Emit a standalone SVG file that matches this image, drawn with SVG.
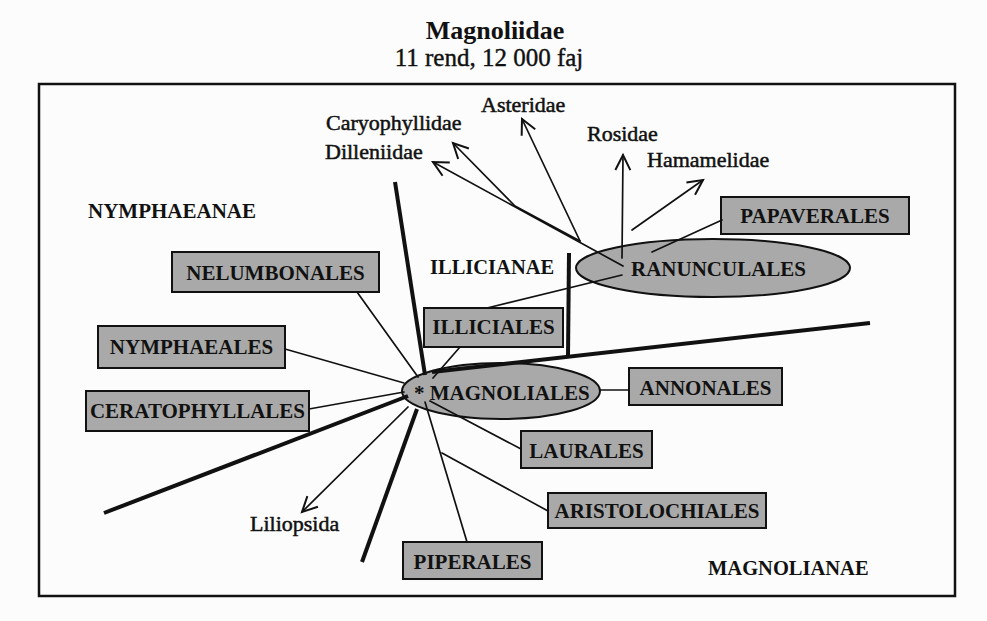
<svg xmlns="http://www.w3.org/2000/svg" width="987" height="621" viewBox="0 0 987 621">
<defs>
<style>
.bg{fill:#fcfcfc}
.frame{fill:none;stroke:#111;stroke-width:2.5}
.box{fill:#a9a9a9;stroke:#111;stroke-width:2}
.ell{fill:#a9a9a9;stroke:#111;stroke-width:2}
.lbl{font-family:"Liberation Serif","Times New Roman",serif;font-weight:bold;font-size:21px;fill:#111}
.cap{font-family:"Liberation Serif","Times New Roman",serif;font-weight:bold;font-size:20.5px;fill:#111}
.sm{font-family:"Liberation Serif","Times New Roman",serif;font-size:22px;fill:#111;stroke:#111;stroke-width:0.5}
.t1{font-family:"Liberation Serif","Times New Roman",serif;font-weight:bold;font-size:26px;fill:#111}
.t2{font-family:"Liberation Serif","Times New Roman",serif;font-size:25px;fill:#111;stroke:#111;stroke-width:0.4}
.c{text-anchor:middle}
.thin{fill:none;stroke:#111;stroke-width:1.7;stroke-linecap:round}
.thick{fill:none;stroke:#111;stroke-width:4;stroke-linecap:butt}
.arr{marker-end:url(#ah)}
</style>
<marker id="ah" markerUnits="userSpaceOnUse" markerWidth="22" markerHeight="22" viewBox="-18 -11 22 22" refX="0" refY="0" orient="auto">
<path d="M-15,-7.5 L0,0 L-15,7.5" fill="none" stroke="#111" stroke-width="2"/>
</marker>
</defs>
<rect class="bg" x="0" y="0" width="987" height="621"/>
<g id="title">
<text class="t1 c" x="495" y="39">Magnoliidae</text>
<text class="t2 c" x="489" y="66">11 rend, 12 000 faj</text>
</g>
<rect class="frame" x="39" y="84" width="916" height="512"/>

<g id="nymphaeanae"><text class="lbl" x="88" y="218">NYMPHAEANAE</text></g>
<g id="illicianae"><text class="cap" x="430" y="274">ILLICIANAE</text></g>
<g id="magnolianae"><text class="cap" x="708" y="575">MAGNOLIANAE</text></g>

<g id="caryophyllidae"><text class="sm" x="326" y="130">Caryophyllidae</text></g>
<g id="dilleniidae"><text class="sm" x="325" y="159">Dilleniidae</text></g>
<g id="asteridae"><text class="sm" x="481" y="112">Asteridae</text></g>
<g id="rosidae"><text class="sm" x="587" y="141">Rosidae</text></g>
<g id="hamamelidae"><text class="sm" x="647" y="167">Hamamelidae</text></g>
<g id="liliopsida"><text class="sm" x="250" y="531">Liliopsida</text></g>

<g id="nelumbonales"><rect class="box" x="172" y="252" width="207" height="40"/><text class="lbl c" x="275.5" y="280">NELUMBONALES</text></g>
<g id="nymphaeales"><rect class="box" x="98" y="326" width="187" height="42"/><text class="lbl c" x="191.5" y="354">NYMPHAEALES</text></g>
<g id="ceratophyllales"><rect class="box" x="86" y="391" width="223" height="40"/><text class="lbl c" x="197.5" y="418">CERATOPHYLLALES</text></g>
<g id="illiciales"><rect class="box" x="424" y="308" width="139" height="39"/><text class="lbl c" x="493.5" y="334">ILLICIALES</text></g>
<g id="papaverales"><rect class="box" x="721" y="197" width="188" height="37"/><text class="lbl c" x="815" y="223">PAPAVERALES</text></g>
<g id="ranunculales"><ellipse class="ell" cx="713" cy="268" rx="137" ry="29"/><text class="lbl" x="631" y="276">RANUNCULALES</text></g>
<g id="magnoliales"><ellipse class="ell" cx="501" cy="391" rx="99" ry="28"/><text class="lbl" x="414" y="400">* MAGNOLIALES</text></g>
<g id="annonales"><rect class="box" x="629" y="368" width="153" height="37"/><text class="lbl c" x="705.5" y="395">ANNONALES</text></g>
<g id="laurales"><rect class="box" x="521" y="431" width="131" height="37"/><text class="lbl c" x="586.5" y="458">LAURALES</text></g>
<g id="aristolochiales"><rect class="box" x="548" y="493" width="218" height="35"/><text class="lbl c" x="657" y="518">ARISTOLOCHIALES</text></g>
<g id="piperales"><rect class="box" x="403" y="542" width="139" height="37"/><text class="lbl c" x="472.5" y="569">PIPERALES</text></g>

<g id="connectors">
<line class="thin" x1="357" y1="292" x2="418" y2="377"/>
<line class="thin" x1="285" y1="349" x2="404" y2="383"/>
<line class="thin" x1="309" y1="409" x2="404" y2="392"/>
<line class="thick" x1="104" y1="513" x2="408" y2="396"/>
<line class="thin arr" x1="408" y1="407" x2="302" y2="512"/>
<line class="thick" x1="362" y1="562" x2="417" y2="409"/>
<line class="thin" x1="425" y1="402" x2="467" y2="542"/>
<line class="thin" x1="442" y1="453" x2="548" y2="511"/>
<line class="thin" x1="430" y1="401" x2="521" y2="449"/>
<line class="thin" x1="600" y1="390" x2="629" y2="390"/>
<line class="thin" x1="433" y1="378" x2="460" y2="347"/>
<line class="thick" x1="395" y1="182" x2="425" y2="375"/>
<line class="thick" x1="432" y1="372" x2="870" y2="323"/>
<line class="thick" x1="569" y1="253" x2="568" y2="357"/>
<line class="thin" x1="487" y1="308" x2="622" y2="275"/>
<line class="thin arr" x1="623" y1="266" x2="433" y2="162"/>
<path class="thin arr" d="M580,241 L515,206 L453,143"/>
<line class="thin arr" x1="580" y1="241" x2="522" y2="119"/>
<line class="thin arr" x1="622" y1="258" x2="623" y2="155"/>
<line class="thin arr" x1="632" y1="230" x2="703" y2="180"/>
<line class="thin" x1="652" y1="252" x2="722" y2="220"/>
</g>
</svg>
